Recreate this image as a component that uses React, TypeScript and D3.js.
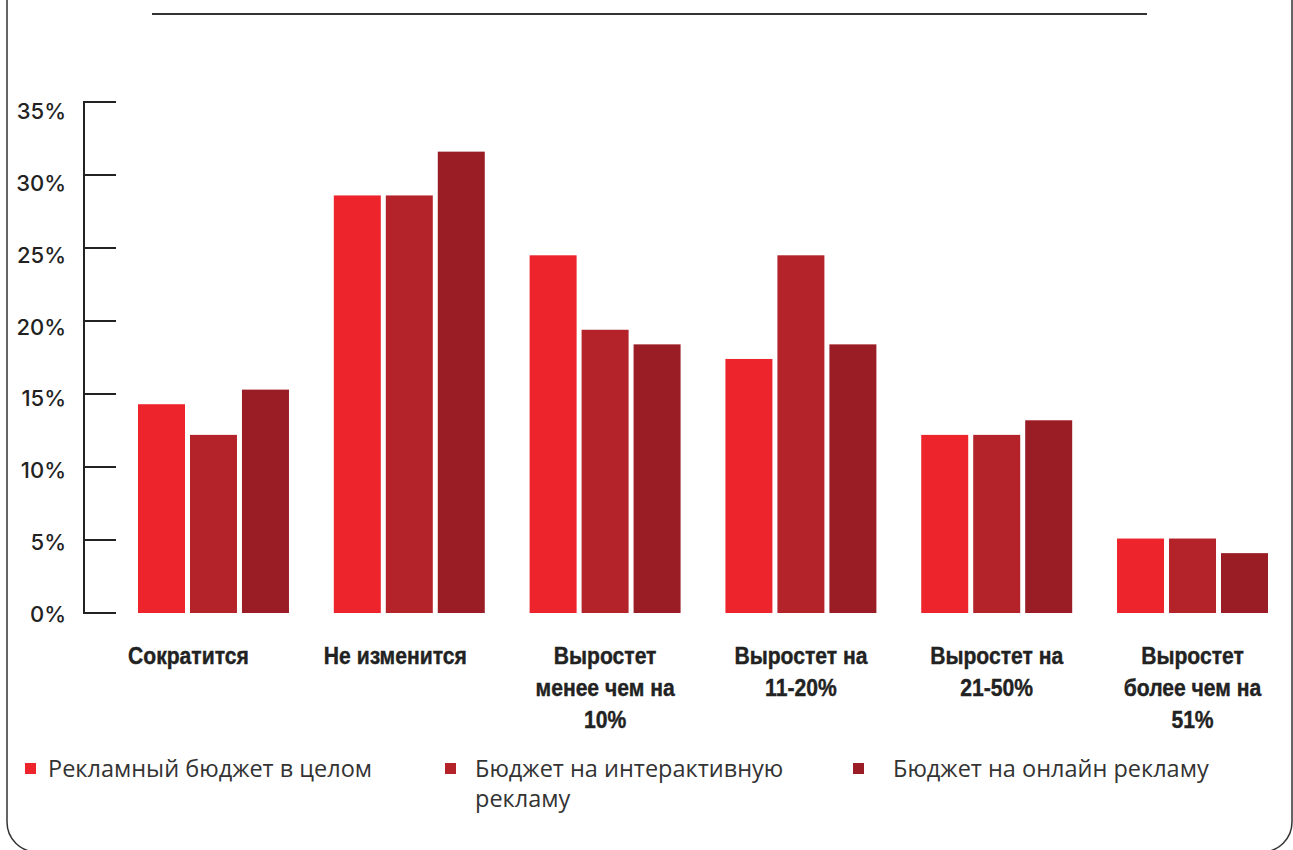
import React from "react";
import * as d3 from "d3";

const categories = [
  "Сократится",
  "Не изменится",
  "Выростет\nменее чем на\n10%",
  "Выростет на\n11-20%",
  "Выростет на\n21-50%",
  "Выростет\nболее чем на\n51%",
];

const seriesNames = [
  "Рекламный бюджет в целом",
  "Бюджет на интерактивную\nрекламу",
  "Бюджет на онлайн рекламу",
];

const seriesColors = ["#EE242D", "#B4232A", "#9A1C25"];

const totalBudget = [14.3, 28.6, 24.5, 17.4, 12.2, 5.1];
const interactiveBudget = [12.2, 28.6, 19.4, 24.5, 12.2, 5.1];
const onlineBudget = [15.3, 31.6, 18.4, 18.4, 13.2, 4.1];

const yTicks = [0, 5, 10, 15, 20, 25, 30, 35];

const W = 1293;
const H = 850;

export default function App() {
  const series = [totalBudget, interactiveBudget, onlineBudget];

  const x = d3.scaleBand<string>().domain(categories).range([138, 1268]).paddingInner(0.229).paddingOuter(0);
  const xs = d3.scaleBand<number>().domain([0, 1, 2]).range([0, x.bandwidth()]).paddingInner(0.096);
  const y = d3.scaleLinear().domain([0, 35]).range([613, 102]);
  const yLab = d3.scaleLinear().domain([0, 35]).range([614, 111]);

  const legendX = [25, 445, 853];
  const legendTextX = [48, 475, 893];

  const frame = `M7,0 L7,822 A30,30 0 0 0 37,852 L1262,852 A30,30 0 0 0 1292,822 L1292,0`;

  return (
    <svg
      width={W}
      height={H}
      style={{ position: "absolute", left: 0, top: 0, background: "#fff" }}
    >
      <path d={frame} fill="none" stroke="#333" strokeWidth={1.5} />
      <line x1={152} x2={1147} y1={14} y2={14} stroke="#333" strokeWidth={2} />

      {/* y axis */}
      <line x1={84} x2={84} y1={y(35)} y2={y(0)} stroke="#222" strokeWidth={2} />
      {yTicks.map((t) => (
        <g key={t}>
          <line x1={83} x2={116} y1={y(t)} y2={y(t)} stroke="#222" strokeWidth={2} />
          <text
            x={66}
            y={yLab(t)}
            textAnchor="end"
            dominantBaseline="central"
            fontFamily="Inter, 'Open Sans', sans-serif"
            fontSize={22}
            fontWeight={500}
            fill="#222"
          >
            {t}%
          </text>
        </g>
      ))}

      {/* bars */}
      {categories.map((c, ci) => (
        <g key={c} transform={`translate(${x(c)},0)`}>
          {series.map((s, si) => (
            <rect
              key={si}
              x={xs(si)}
              y={y(s[ci])}
              width={xs.bandwidth()}
              height={y(0) - y(s[ci])}
              fill={seriesColors[si]}
            />
          ))}
        </g>
      ))}

      {/* category labels */}
      {categories.map((c) => {
        const lines = c.split("\n");
        const single = lines.length === 1;
        const cx = single ? (x(c) as number) - 10 : (x(c) as number) + x.bandwidth() / 2;
        return (
          <text
            key={c}
            transform={`translate(${cx},0) scale(0.88,1)`}
            textAnchor={single ? "start" : "middle"}
            fontFamily="'Liberation Sans', Arial, sans-serif"
            fontWeight="bold"
            fontSize={24}
            fill="#222"
            stroke="#222"
            strokeWidth={0.4}
          >
            {lines.map((l, i) => (
              <tspan key={i} x={0} y={664 + i * 32}>
                {l}
              </tspan>
            ))}
          </text>
        );
      })}

      {/* legend */}
      {seriesNames.map((n, i) => (
        <g key={n}>
          <rect x={legendX[i]} y={763} width={11} height={11} fill={seriesColors[i]} />
          <text fontFamily="'Open Sans', sans-serif" fontSize={23.5} fill="#333">
            {n.split("\n").map((l, j) => (
              <tspan key={j} x={legendTextX[i]} y={777 + j * 30}>
                {l}
              </tspan>
            ))}
          </text>
        </g>
      ))}
    </svg>
  );
}
